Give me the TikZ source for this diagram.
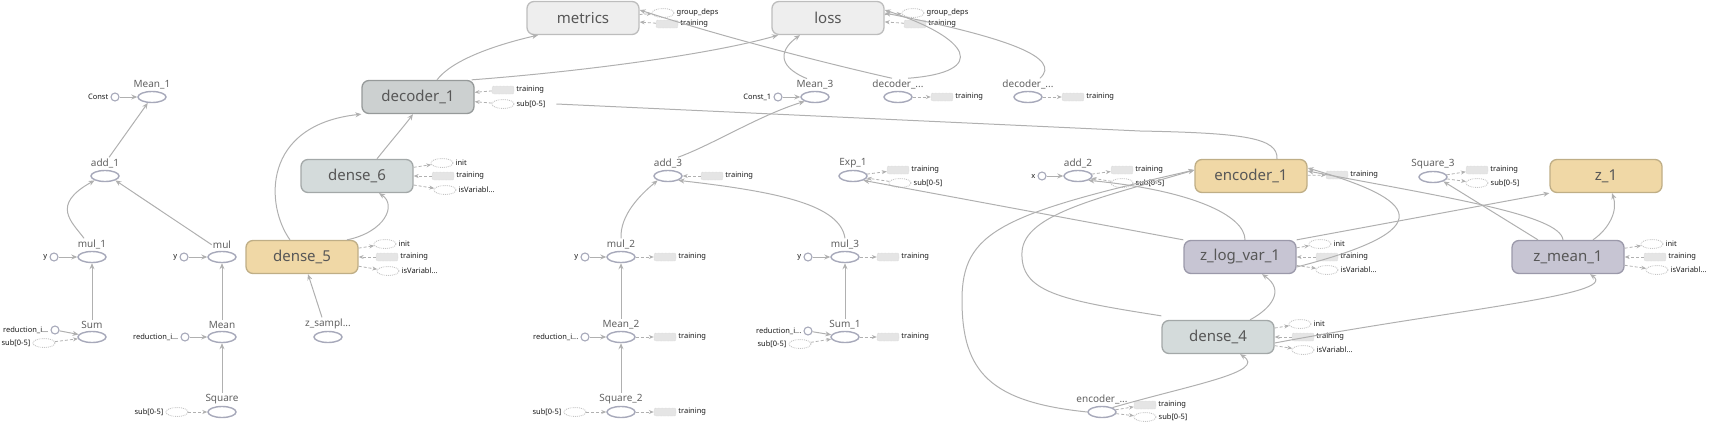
\documentclass[tikz,border=0pt]{standalone}
\usepackage{fontspec}
\setmainfont{Noto Sans}
\usetikzlibrary{arrows.meta,shapes.geometric}
\definecolor{edgegray}{HTML}{B0B0B0}
\definecolor{opline}{HTML}{A7A9BA}
\definecolor{lightfill}{HTML}{EEEEEE}
\definecolor{lightline}{HTML}{BDBDBD}
\definecolor{darkfill}{HTML}{CCD0D0}
\definecolor{darkline}{HTML}{969A9A}
\definecolor{greenfill}{HTML}{D4DBDB}
\definecolor{greenline}{HTML}{A3A8A8}
\definecolor{tanfill}{HTML}{F0D8A6}
\definecolor{tanline}{HTML}{BFAE86}
\definecolor{lavfill}{HTML}{C7C5D3}
\definecolor{lavline}{HTML}{9B99AA}
\definecolor{auxgray}{HTML}{C4C4C4}
\begin{document}
\begin{tikzpicture}[x=1pt,y=1pt,yscale=-1,
    opbox/.style={rounded corners=7pt,minimum width=112pt,minimum height=33pt,line width=1.3pt,
      font=\fontsize{15}{18}\selectfont,text=black!66},
    lightbox/.style={opbox,fill=lightfill,draw=lightline},
    darkbox/.style={opbox,fill=darkfill,draw=darkline},
    greenbox/.style={opbox,fill=greenfill,draw=greenline},
    tanbox/.style={opbox,fill=tanfill,draw=tanline},
    lavbox/.style={opbox,fill=lavfill,draw=lavline},
    opnode/.style={ellipse,draw=opline,fill=white,line width=1.4pt,minimum width=28pt,minimum height=11pt,inner sep=0pt},
    inpt/.style={circle,draw=opline,fill=white,line width=1.1pt,minimum size=8pt,inner sep=0pt},
    auxe/.style={ellipse,draw=auxgray,densely dotted,line width=0.9pt,minimum width=22pt,minimum height=9pt,inner sep=0pt},
    auxr/.style={rounded corners=2pt,fill=black!10,draw=auxgray,densely dotted,minimum width=22pt,minimum height=8pt,inner sep=0pt},
    oplab/.style={font=\fontsize{10}{12}\selectfont,text=black!62,inner sep=1pt},
    auxlab/.style={font=\fontsize{7.5}{9}\selectfont,text=black!90,inner sep=1pt},
    label distance=1pt,
    flow/.style={draw=edgegray,line width=1pt,-{Stealth[length=6pt,width=5pt]}},
    flowline/.style={draw=edgegray,line width=1pt},
    auxflow/.style={draw=edgegray,line width=0.8pt,densely dashed,-{Stealth[length=5pt,width=4pt]}}]
\useasboundingbox (0,0) rectangle (1725,423);
\node[lightbox] (metrics) at (583,18) {metrics};
\node[lightbox] (loss) at (828,18) {loss};
\node[darkbox] (decoder1) at (418,97) {decoder\_1};
\node[greenbox] (dense6) at (357,176) {dense\_6};
\node[tanbox] (dense5) at (302,257) {dense\_5};
\node[tanbox] (encoder1) at (1251,176) {encoder\_1};
\node[tanbox] (z1) at (1606,176) {z\_1};
\node[lavbox] (zlogvar1) at (1240,257) {z\_log\_var\_1};
\node[lavbox] (zmean1) at (1568,257) {z\_mean\_1};
\node[greenbox] (dense4) at (1218,337) {dense\_4};
\node[opnode,label={[oplab]above:Mean\_1}] (mean1) at (152,97) {};
\node[opnode,label={[oplab,name=add1L]above:add\_1}] (add1) at (105,176) {};
\node[opnode,label={[oplab,name=mul1L]above:mul\_1}] (mul1) at (92,257) {};
\node[opnode,label={[oplab,name=mulL]above:mul}] (mul) at (222,257) {};
\node[opnode,label={[oplab,name=sumL]above:Sum}] (sum) at (92,337) {};
\node[opnode,label={[oplab,name=meanL]above:Mean}] (mean) at (222,337) {};
\node[opnode,label={[oplab,name=squareL]above:Square}] (square) at (222,412) {};
\node[opnode,label={[oplab,name=zsamplL]above:z\_sampl...}] (zsampl) at (328,337) {};
\node[opnode,label={[oplab,name=mean3L]above:Mean\_3}] (mean3) at (815,97) {};
\node[opnode,label={[oplab,name=decAL]above:decoder\_...}] (decA) at (898,97) {};
\node[opnode,label={[oplab,name=decBL]above:decoder\_...}] (decB) at (1028,97) {};
\node[opnode,label={[oplab,name=add3L]above:add\_3}] (add3) at (668,176) {};
\node[opnode,label={[oplab]above:Exp\_1}] (exp1) at (853,176) {};
\node[opnode,label={[oplab]above:add\_2}] (add2) at (1078,176) {};
\node[opnode,label={[oplab]above:Square\_3}] (square3) at (1433,177) {};
\node[opnode,label={[oplab,name=mul2L]above:mul\_2}] (mul2) at (621,257) {};
\node[opnode,label={[oplab,name=mul3L]above:mul\_3}] (mul3) at (845,257) {};
\node[opnode,label={[oplab,name=mean2L]above:Mean\_2}] (mean2) at (621,337) {};
\node[opnode,label={[oplab,name=sum1L]above:Sum\_1}] (sum1) at (845,337) {};
\node[opnode,label={[oplab,name=square2L]above:Square\_2}] (square2) at (621,412) {};
\node[opnode,label={[oplab]above:encoder\_...}] (encA) at (1102,412) {};
\node[inpt,label={[auxlab]left:Const}] (const) at (115,97) {};
\node[inpt,label={[auxlab]left:Const\_1}] (constb) at (778,97) {};
\node[inpt,label={[auxlab]left:y}] (ya) at (54,257) {};
\node[inpt,label={[auxlab]left:y}] (yb) at (184,257) {};
\node[inpt,label={[auxlab]left:y}] (yc) at (585,257) {};
\node[inpt,label={[auxlab]left:y}] (yd) at (808,257) {};
\node[inpt,label={[auxlab]left:reduction\_i...}] (reda) at (55,330) {};
\node[inpt,label={[auxlab]left:reduction\_i...}] (redb) at (185,337) {};
\node[inpt,label={[auxlab]left:reduction\_i...}] (redc) at (585,337) {};
\node[inpt,label={[auxlab]left:reduction\_i...}] (redd) at (808,331) {};
\node[inpt,label={[auxlab]left:x}] (xa) at (1042,176) {};
\foreach \nm/\px/\py in {suba/44/343,subb/177/412,subc/575/412,subd/800/344}
  \node[auxe,label={[auxlab]left:sub{[}0-5{]}}] (\nm) at (\px,\py) {};
\foreach \nm/\px/\py in {mett/667/24,losst/915/24,dec1t/503/90,d6t/443/176,d5t/387/257,a3t/712/176,
    m2t/665/257,mn2t/665/337,sq2t/665/412,m3t/888/257,s1t/888/337,dat/942/97,dbt/1073/97,
    e1t/898/170,a2t/1122/170,enct/1337/175,zlt/1327/257,d4t/1303/337,s3t/1477/170,zmt/1655/257,eat/1145/405}
  \node[auxr,label={[auxlab]right:training}] (\nm) at (\px,\py) {};
\foreach \nm/\px/\py/\txt in {metg/663/13/group\_deps,lossg/913/13/group\_deps,dec1s/503/104/sub{[}0-5{]},
    d6i/442/163/init,d6v/445/190/isVariabl\dots,d5i/385/244/init,d5v/388/271/isVariabl\dots,
    e1s/900/183/sub{[}0-5{]},a2s/1122/183/sub{[}0-5{]},zli/1320/244/init,zlv/1327/270/isVariabl\dots,
    d4i/1300/324/init,d4v/1303/350/isVariabl\dots,s3s/1477/183/sub{[}0-5{]},
    zmi/1652/244/init,zmv/1657/270/isVariabl\dots,eas/1145/417/sub{[}0-5{]}}
  \node[auxe,label={[auxlab]right:\txt}] (\nm) at (\px,\py) {};
\foreach \a/\b in {metrics/metg,mett/metrics,loss/lossg,losst/loss,dec1t/decoder1,dec1s/decoder1,
    dense6/d6i,d6t/dense6,dense6/d6v,dense5/d5i,d5t/dense5,dense5/d5v,a3t/add3,mul2/m2t,mean2/mn2t,
    square2/sq2t,mul3/m3t,sum1/s1t,decA/dat,decB/dbt,exp1/e1t,e1s/exp1,add2/a2t,a2s/add2,encoder1/enct,
    zlogvar1/zli,zlt/zlogvar1,zlogvar1/zlv,dense4/d4i,d4t/dense4,dense4/d4v,square3/s3t,square3/s3s,
    zmean1/zmi,zmt/zmean1,zmean1/zmv,encA/eat,encA/eas,suba/sum,subb/square,subc/square2,subd/sum1}
  \draw[auxflow] (\a) -- (\b);
\foreach \a/\b in {const/mean1,add1L/mean1,ya/mul1,sumL/mul1,reda/sum,yb/mul,meanL/mul,redb/mean,squareL/mean,
    constb/mean3,yc/mul2,mean2L/mul2,redc/mean2,square2L/mean2,yd/mul3,sum1L/mul3,redd/sum1,xa/add2}
  \draw[flow] (\a) -- (\b);
\draw[flow] ([xshift=-8pt]mul1L.north) .. controls (72,222) and (50,205) .. (add1.south west);
\draw[flow] (mulL.west) -- (add1.south east);
\draw[flow] ([xshift=-6pt]zsamplL.north) -- ([xshift=6pt]dense5.south);
\draw[flow] ([xshift=-12pt]dense5.north) .. controls (265,205) and (262,125) .. (decoder1.south west);
\draw[flow] ([xshift=45pt]dense5.north) .. controls (385,232) and (397,205) .. ([xshift=22pt]dense6.south);
\draw[flow] ([xshift=20pt]dense6.north) .. controls (392,140) and (405,125) .. ([xshift=-5pt]decoder1.south);
\draw[flow] ([xshift=19pt]decoder1.north) .. controls (452,60) and (495,45) .. ([xshift=-45pt]metrics.south);
\draw[flow] ([xshift=-3pt]decoder1.north east) .. controls (600,70) and (720,52) .. ([xshift=-50pt]loss.south);
\draw[flow] ([xshift=-6pt]decAL.north) .. controls (820,62) and (720,36) .. ([yshift=-8pt]metrics.east);
\draw[flow] ([xshift=10pt]decAL.north) .. controls (990,72) and (970,38) .. ([yshift=-8pt]loss.east);
\draw[flow] ([xshift=12pt]decBL.north) .. controls (1062,58) and (1010,38) .. ([yshift=-5pt]loss.east);
\draw[flow] ([xshift=-8pt]mean3L.north) .. controls (774,65) and (782,48) .. ([xshift=-28pt]loss.south);
\draw[flow] ([xshift=10pt]add3L.north) .. controls (712,145) and (760,115) .. (mean3.south west);
\draw[flow] (mul2L.north) .. controls (620,215) and (640,195) .. (add3.south west);
\draw[flow] (mul3L.north) .. controls (840,205) and (780,192) .. (add3.south east);
\draw[flowline] ([xshift=26pt]encoder1.north) .. controls (1278,138) and (1245,133) .. (1140,131) -- ([xshift=42pt]dec1s.east);
\draw[flow] (encA.north east) .. controls (1190,385) and (1268,372) .. ([xshift=22pt]dense4.south);
\draw[flow] (encA.west) .. controls (990,402) and (962,372) .. (962,300) .. controls (962,232) and (1000,214) .. ([yshift=-6pt]encoder1.west);
\draw[flow] ([yshift=-4pt]dense4.north west) .. controls (1060,300) and (1020,292) .. (1022,252) .. controls (1024,214) and (1100,198) .. ([yshift=-6pt]encoder1.west);
\draw[flow] ([xshift=32pt]dense4.north) .. controls (1272,308) and (1285,290) .. ([xshift=22pt]zlogvar1.south);
\draw[flow] ([xshift=5pt]zlogvar1.north) .. controls (1245,215) and (1190,190) .. (add2.south east);
\draw[flow] (zlogvar1.north west) -- (exp1.south east);
\draw[flow] (zlogvar1.north east) -- (z1.south west);
\draw[flow] ([yshift=10pt]zlogvar1.east) .. controls (1460,225) and (1400,195) .. ([yshift=-8pt]encoder1.east);
\draw[flow] ([xshift=-5pt]zmean1.north) .. controls (1560,215) and (1450,198) .. ([yshift=-5pt]encoder1.east);
\draw[flow] ([xshift=-30pt]zmean1.north) -- (square3.south east);
\draw[flow] ([xshift=25pt]zmean1.north) .. controls (1610,228) and (1618,210) .. ([xshift=6pt]z1.south);
\draw[flow] ([yshift=6pt]dense4.east) .. controls (1450,310) and (1620,295) .. ([xshift=22pt]zmean1.south);
\end{tikzpicture}
\end{document}
